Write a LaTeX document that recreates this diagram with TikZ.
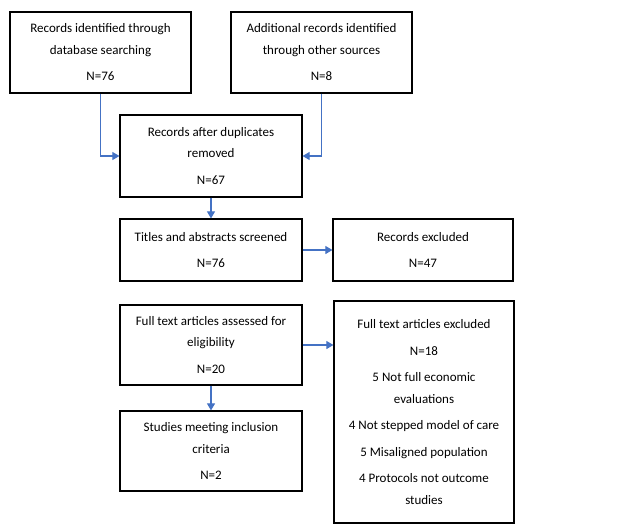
\documentclass[tikz,border=0pt]{standalone}
\usepackage{fontspec}
\setmainfont{Carlito}
\usetikzlibrary{arrows.meta}
\definecolor{arrblue}{RGB}{68,114,196}
\tikzset{
  box/.style={draw=black, line width=1.2pt, align=center, inner sep=0pt,
    font=\fontsize{13}{21.5}\selectfont},
  arr/.style={draw=arrblue, line width=1.1pt, -{Triangle[width=8pt,length=7pt]}}
}
\begin{document}
\begin{tikzpicture}[x=1pt,y=-1pt]
\useasboundingbox (0,0) rectangle (640,531);
\node[box, minimum width=181pt, minimum height=81pt] (a) at (100.5,52.5)
  {Records identified through\\database searching\\[5pt]N=76};
\node[box, minimum width=181pt, minimum height=81pt] (b) at (321.5,52.5)
  {Additional records identified\\through other sources\\[5pt]N=8};
\node[box, minimum width=182pt, minimum height=82pt] (c) at (211,156)
  {Records after duplicates\\removed\\[5pt]N=67};
\node[box, minimum width=182pt, minimum height=62pt] (d) at (211,250)
  {Titles and abstracts screened\\[5pt]N=76};
\node[box, minimum width=180pt, minimum height=62pt] (e) at (423,250)
  {Records excluded\\[5pt]N=47};
\node[box, minimum width=182pt, minimum height=80pt] (f) at (211,345)
  {Full text articles assessed for\\eligibility\\[5pt]N=20};
\node[box, minimum width=180pt, minimum height=222pt] (g) at (424,412)
  {Full text articles excluded\\[5pt]N=18\\[5pt]5 Not full economic\\evaluations\\[5pt]4 Not stepped model of care\\[5pt]5 Misaligned population\\[5pt]4 Protocols not outcome\\studies};
\node[box, minimum width=182pt, minimum height=80pt] (h) at (211,451)
  {Studies meeting inclusion\\criteria\\[5pt]N=2};
\draw[arr] (a.south) |- (c.west);
\draw[arr] (b.south) |- (c.east);
\draw[arr] (c) -- (d);
\draw[arr] (d) -- (e);
\draw[arr] (f.east) -- (g.west |- f.east);
\draw[arr] (f) -- (h);
\end{tikzpicture}
\end{document}
